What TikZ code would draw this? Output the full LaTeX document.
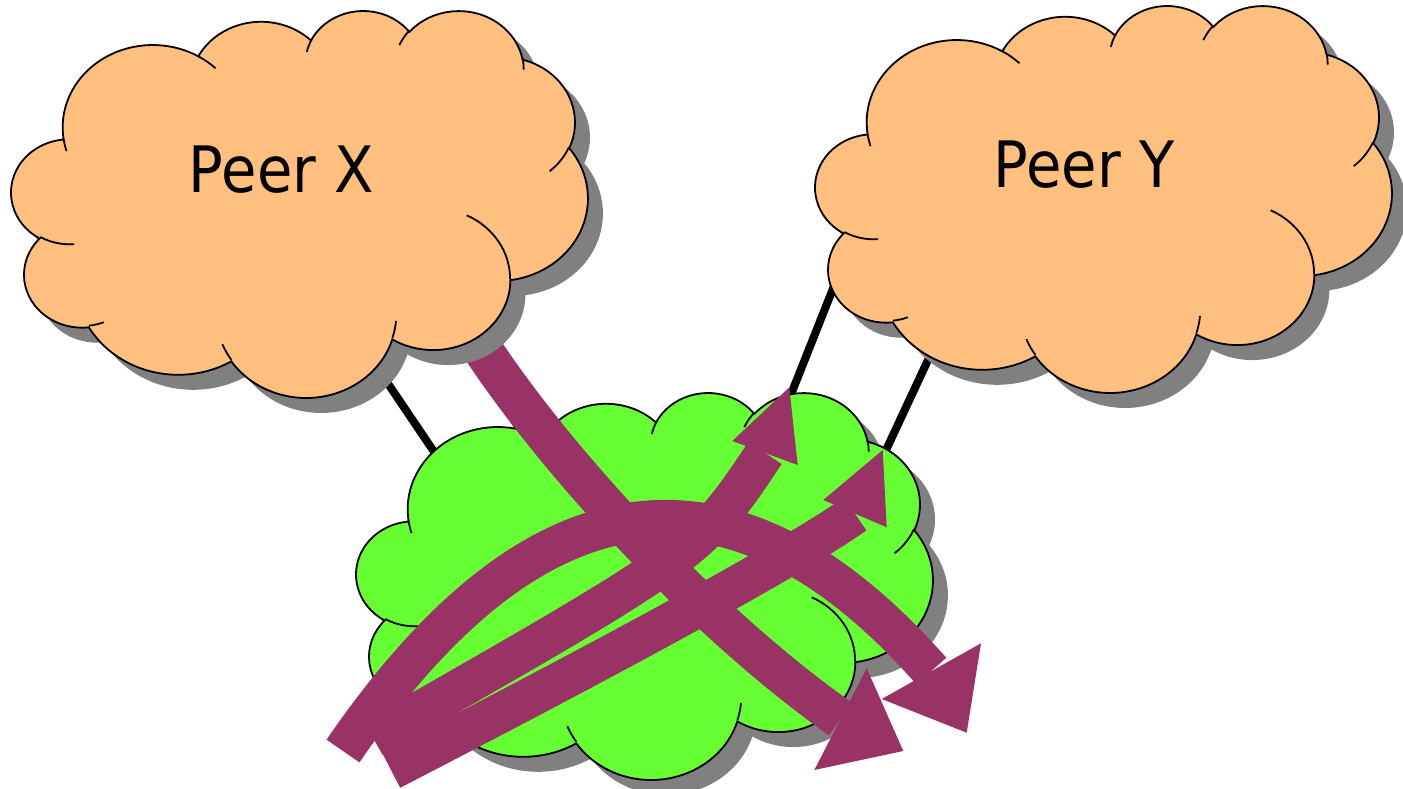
\documentclass[tikz,border=0pt]{standalone}
\usepackage{fontspec}
\usepackage{graphicx}
\setmainfont{DejaVu Sans}

\definecolor{peerfill}{HTML}{FFBF7F}
\definecolor{netfill}{HTML}{66FF33}
\definecolor{flowcol}{HTML}{993366}
\definecolor{cloudshadow}{HTML}{808080}

% Cloud outline, drawn in a 432 x 432 unit box (y grows downwards)
\newcommand\cloudpath{%
  (39.00,143.70)
  arc[start angle=172.25, end angle=300.36, x radius=67.53, y radius=91.90]
  arc[start angle=-152.03, end angle=-45.44, x radius=53.33, y radius=72.67]
  arc[start angle=-153.48, end angle=-37.32, x radius=43.65, y radius=59.45]
  arc[start angle=-139.70, end angle=-10.21, x radius=48.57, y radius=65.95]
  arc[start angle=-74.77, end angle=23.21, x radius=53.33, y radius=72.73]
  arc[start angle=-37.52, end angle=81.86, x radius=67.75, y radius=92.20]
  arc[start angle=0.46, end angle=121.98, x radius=57.85, y radius=78.67]
  arc[start angle=16.85, end angle=146.24, x radius=67.52, y radius=92.15]
  arc[start angle=58.99, end angle=150.20, x radius=77.20, y radius=105.43]
  arc[start angle=83.31, end angle=223.09, x radius=43.60, y radius=59.18]
  arc[start angle=120.35, end angle=264.11, x radius=43.45, y radius=59.45]
  -- cycle}

% Inner fold lines of the cloud
\newcommand\cloudfolds{%
  (46.93,261.77) arc[start angle=85.55, end angle=120.35, x radius=43.45, y radius=59.45]
  (69.28,348.99) arc[start angle=68.23, end angle=83.31, x radius=43.60, y radius=59.18]
  (164.78,390.90) arc[start angle=146.24, end angle=158.47, x radius=67.52, y radius=92.15]
  (288.27,347.51) arc[start angle=4.74, end angle=16.85, x radius=67.52, y radius=92.15]
  (341.29,229.54) arc[start angle=-64.02, end angle=0.46, x radius=57.85, y radius=78.67]
  (417.98,153.54) arc[start angle=23.21, end angle=49.64, x radius=53.33, y radius=72.73]
  (383.24,54.26) arc[start angle=-10.21, end angle=0.82, x radius=48.57, y radius=65.95]
  (290.78,39.52) arc[start angle=-156.28, end angle=-139.70, x radius=48.57, y radius=65.95]
  (221.41,47.20) arc[start angle=-167.73, end angle=-153.48, x radius=43.65, y radius=59.45]
  (140.00,51.92) arc[start angle=-59.64, end angle=-45.75, x radius=67.53, y radius=91.90]
  (41.27,157.89) arc[start angle=163.19, end angle=172.25, x radius=67.53, y radius=91.90]}

% #1,#2: top-left offset of the cloud box, #3: fill colour
\newcommand\drawcloud[3]{%
  \begin{scope}[shift={(#1+15,#2+15)}, cloudunits]
    \fill[cloudshadow] \cloudpath;
  \end{scope}
  \begin{scope}[shift={(#1,#2)}, cloudunits]
    \filldraw[fill=#3, cloudline] \cloudpath;
    \draw[cloudline] \cloudfolds;
  \end{scope}}

\tikzset{
  cloudunits/.style={x=1.3338pt, y=-0.8954pt},
  cloudline/.style={draw=black, line width=1.8pt},
  linkline/.style={draw=black, line width=8pt},
  flowline/.style={draw=flowcol, line width=40pt, line cap=butt},
  flowhead/.style={fill=flowcol},
  peerlabel/.style={font=\fontsize{64pt}{70pt}\selectfont, inner sep=0pt, anchor=base},
}

\begin{document}
\begin{tikzpicture}[x=1pt, y=-1pt]
\useasboundingbox (0,0) rectangle (1403,789);
\fill[white] (0,0) rectangle (1403,789);

% link end points
\coordinate (x1top) at (372,360);
\coordinate (x1bot) at (445,468);
\coordinate (x2top) at (462,345);
\coordinate (x2bot) at (531,445);
\coordinate (y1top) at (838,276);
\coordinate (y1bot) at (786,407);
\coordinate (y2top) at (935,345);
\coordinate (y2bot) at (880,463);

% links between the peers and the network
\draw[linkline] (x1top) -- (x1bot);
\draw[linkline] (x2top) -- (x2bot);
\draw[linkline] (y1top) -- (y1bot);
\draw[linkline] (y2top) -- (y2bot);

% network cloud
\drawcloud{356.49}{391.75}{netfill}

% flows across the network
\coordinate (aStart) at (470,330);
\coordinate (aEnd) at (840.5,719);
\coordinate (dStart) at (343,751);
\coordinate (dEnd) at (931.3,671);
\coordinate (bStart) at (373,738);
\coordinate (bEnd) at (765,453);
\coordinate (cStart) at (391,770);
\coordinate (cEnd) at (855,514);

\draw[flowline] (aStart) .. controls (545,450) and (700,620) .. (aEnd);
\draw[flowline] (dStart) .. controls (547,454) and (746,461) .. (dEnd);
\draw[flowline] (bStart) .. controls (699,552) and (699,552) .. (bEnd);
\draw[flowline] (cStart) .. controls (600,662) and (790,560) .. (cEnd);

% arrow heads
\coordinate (hA1) at (866.7,668.3);
\coordinate (hA2) at (903.3,751);
\coordinate (hA3) at (814.3,770);
\coordinate (hD1) at (981,643.3);
\coordinate (hD2) at (966.7,732.7);
\coordinate (hD3) at (881.7,699);
\coordinate (hB1) at (732.3,441);
\coordinate (hB2) at (789.3,387.3);
\coordinate (hB3) at (797.7,465);
\coordinate (hC1) at (823.3,500);
\coordinate (hC2) at (882.7,450);
\coordinate (hC3) at (886.7,527.3);
\fill[flowhead] (hA1) -- (hA2) -- (hA3) -- cycle;
\fill[flowhead] (hD1) -- (hD2) -- (hD3) -- cycle;
\fill[flowhead] (hB1) -- (hB2) -- (hB3) -- cycle;
\fill[flowhead] (hC1) -- (hC2) -- (hC3) -- cycle;

% peer clouds
\drawcloud{11.49}{9.75}{peerfill}
\drawcloud{815.49}{4.75}{peerfill}

\node[peerlabel] (labelX) at (281.5,193) {\scalebox{0.9}[1]{Peer X}};
\node[peerlabel] (labelY) at (1084,187) {\scalebox{0.9}[1]{Peer Y}};
\end{tikzpicture}
\end{document}
